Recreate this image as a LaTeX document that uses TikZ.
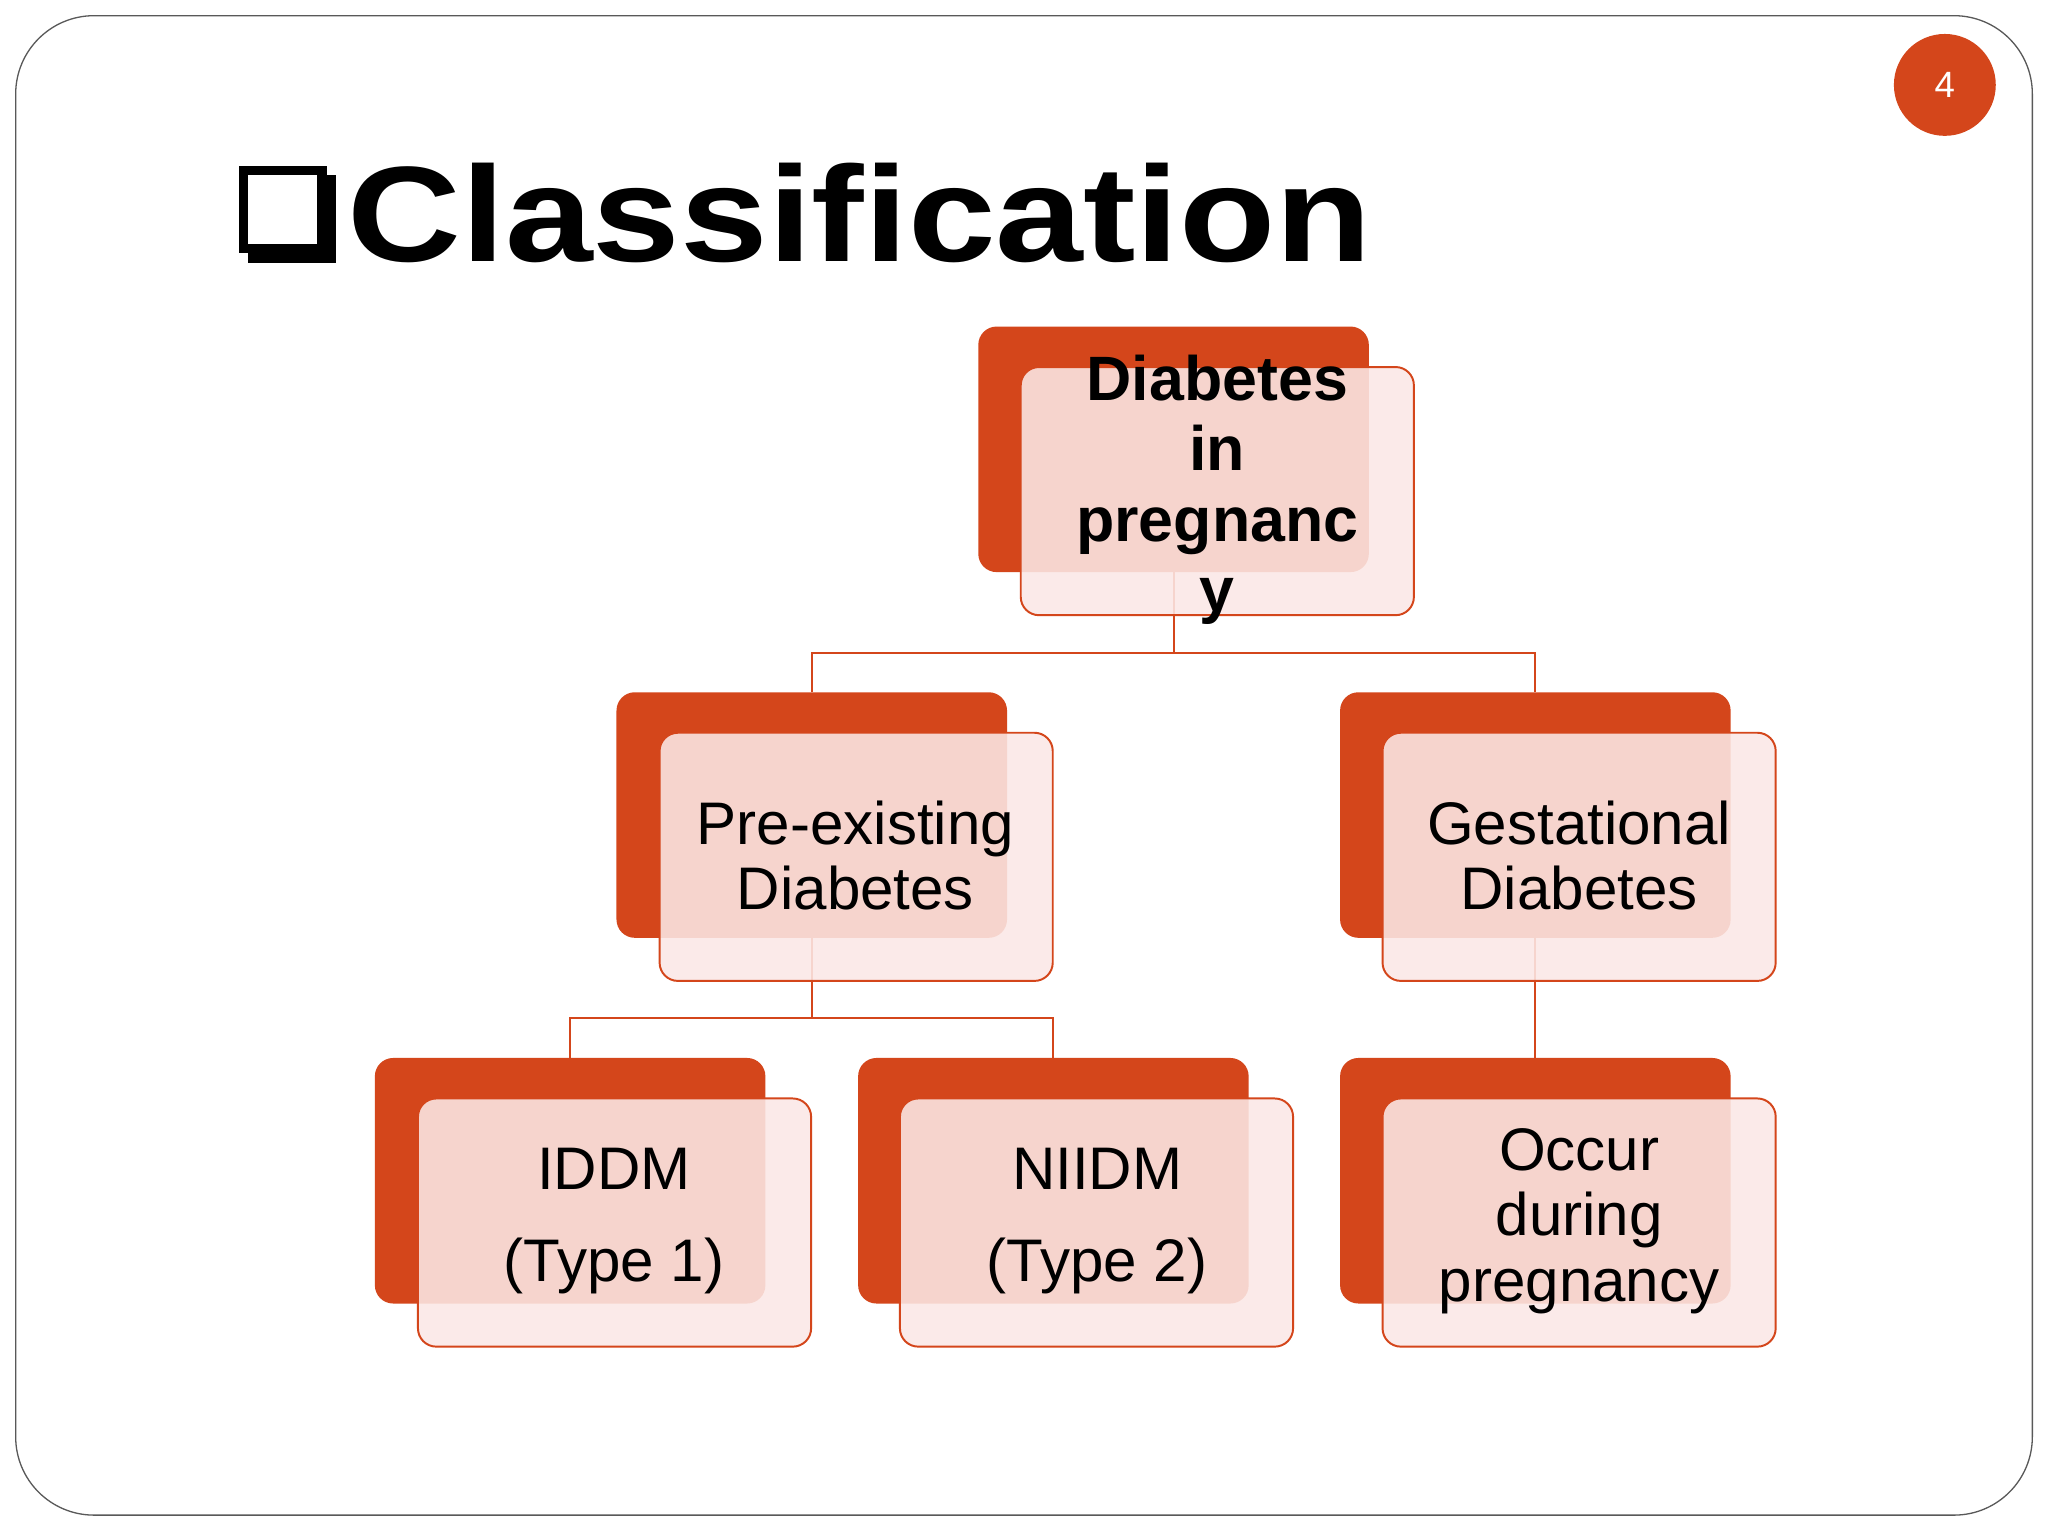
\documentclass[tikz,border=0pt]{standalone}
\usepackage{fontspec}
\setmainfont{Liberation Sans}
\begin{document}
\begin{tikzpicture}[x=1pt,y=-1pt,
  back/.style={fill=or, rounded corners=14pt, minimum width=299pt, minimum height=188pt, draw=none, inner sep=0},
  front/.style={fill=pk, fill opacity=0.88, draw=or, line width=1.5pt, rounded corners=14pt, minimum width=301pt, minimum height=190pt, inner sep=0},
  lbl/.style={align=center, font=\fontsize{46}{50}\selectfont, text=black},
  con/.style={draw=or, line width=1.6pt}]
\definecolor{or}{HTML}{D4461B}
\definecolor{pk}{HTML}{FBE8E6}
\useasboundingbox (0,0) rectangle (1568,1176);
\fill[white] (0,0) rectangle (1568,1176);
\draw[gray!70!black, line width=1pt, rounded corners=60pt] (12,12) rectangle (1556,1160);
\node[circle, fill=or, minimum size=78pt, inner sep=0] (num) at (1489,65) {};
\node[text=white, font=\fontsize{28}{30}\selectfont] (numt) at (1489,65) {4};
% title
\fill[black] (190,134) rectangle (257,201);
\fill[white] (183,127) rectangle (250,194);
\draw[black, line width=7pt] (186.5,130.5) rectangle (246.5,190.5);
\node[anchor=base west, inner sep=0, font=\fontsize{104}{110}\selectfont\bfseries] (title) at (266,200) {\scalebox{1.16}[1]{Classification}};
% back boxes
\node[back] (b0) at (898.5,344) {};
\node[back] (b1) at (621.5,624) {};
\node[back] (b2) at (1175.5,624) {};
\node[back] (b3) at (436.5,904) {};
\node[back] (b4) at (806.5,904) {};
\node[back] (b5) at (1175.5,904) {};
% connectors
\path[con] (b0.south) -- ++(0,62) -| (b1.north);
\path[con] (b0.south) ++(0,62) -| (b2.north);
\path[con] (b1.south) -- ++(0,61) -| (b3.north);
\path[con] (b1.south) ++(0,61) -| (b4.north);
\path[con] (b2.south) -- (b5.north);
% front boxes
\node[front] (f0) at (932,376) {};
\node[front] (f1) at (655.5,656) {};
\node[front] (f2) at (1209,656) {};
\node[front] (f3) at (470.5,936) {};
\node[front] (f4) at (839.5,936) {};
\node[front] (f5) at (1209,936) {};
% labels
\node[lbl, font=\fontsize{48}{54}\selectfont\bfseries] (t0) at (932,375) {Diabetes\\in\\pregnanc\\y};
\node[lbl] (t1) at (655,655) {Pre-existing\\Diabetes};
\node[lbl] (t2) at (1209,655) {Gestational\\Diabetes};
\node[lbl, font=\fontsize{46}{70}\selectfont] (t3) at (470,935) {IDDM\\(Type 1)};
\node[lbl, font=\fontsize{46}{70}\selectfont] (t4) at (840,935) {NIIDM\\(Type 2)};
\node[lbl] (t5) at (1209,935) {Occur\\during\\pregnancy};
\end{tikzpicture}
\end{document}
